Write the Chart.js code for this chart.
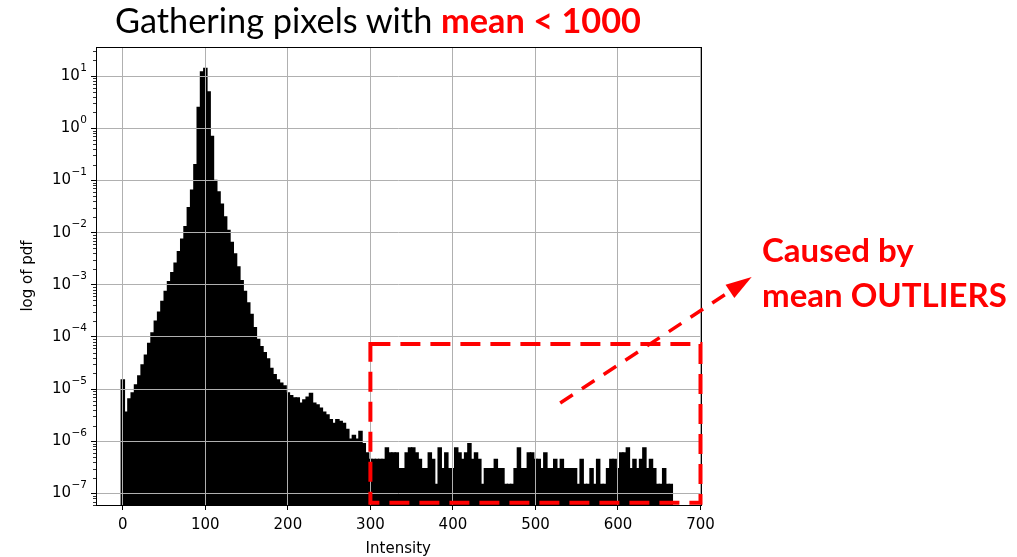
<!DOCTYPE html>
<html>
<head>
<meta charset="utf-8">
<script src="https://cdn.jsdelivr.net/npm/chart.js@4.4.0/dist/chart.umd.min.js"></script>
<style>
  html, body { margin: 0; padding: 0; background: #fff; overflow: hidden; }
  #wrap { position: relative; width: 1017px; height: 557px; overflow: hidden; }
  #box { position: absolute; left: 0; top: 0; width: 1017px; height: 567px; }
  .title { position: absolute; left: 115px; top: -1px; font-family: Lato; font-size: 34.3px; line-height: 1.2; white-space: nowrap; color: #000; }
  .red { color: #f00; font-weight: bold; }
  .note { position: absolute; left: 762px; top: 227px; font-family: Lato; font-weight: bold; font-size: 33px; line-height: 45px; white-space: nowrap; color: #f00; }
</style>
</head>
<body>
<div id="wrap">
  <div id="box"><canvas id="chart"></canvas></div>
  <div class="title">Gathering pixels with <span class="red">mean &lt; 1000</span></div>
  <div class="note">Caused by<br>mean OUTLIERS</div>
</div>
<script>
// histogram bins: first bin centre and width (intensity units)
const binStart = 0;
const binWidth = 4;

// pdf value of each bin
const pdf = [
  1.5e-5, 3.6e-6, 6.5e-6, 8.5e-6, 1.2e-5, 1.8e-5, 2.9e-5, 4.5e-5,
  7.5e-5, 1.2e-4, 2e-4, 3e-4, 4.8e-4, 7.5e-4, 1.15e-3, 1.7e-3,
  2.6e-3, 4.3e-3, 7.5e-3, 0.013, 0.03, 0.065, 0.2, 2.5,
  12, 14, 5, 0.7, 0.1, 0.06, 0.035, 0.02,
  0.011, 6.5e-3, 3.9e-3, 2.2e-3, 1.2e-3, 7.5e-4, 4.5e-4, 2.7e-4,
  1.5e-4, 9e-5, 6.5e-5, 5e-5, 3.8e-5, 2.5e-5, 1.9e-5, 1.5e-5,
  1.3e-5, 1.15e-5, 8.5e-6, 7.5e-6, 6.8e-6, 6.8e-6, 5.4e-6, 6.2e-6,
  7e-6, 8.3e-6, 5.4e-6, 5e-6, 4.3e-6, 3.6e-6, 3.2e-6, 2.6e-6,
  2.2e-6, 2.6e-6, 2.4e-6, 2.2e-6, 1.7e-6, 1.1e-6, 1.3e-6, 1.1e-6,
  1.55e-6, 9e-7, 6e-7,
  4.5e-7, 4.5e-7, 4.5e-7, 4.5e-7, 4.5e-7, 7.5e-7, 6e-7, 6e-7,
  6e-7, 3e-7, 3e-7, 6e-7, 7.5e-7, 7.5e-7, 6e-7, 4.5e-7,
  3e-7, 3e-7, 6e-7, 4.5e-7, 1.5e-7, 7.5e-7, 3e-7, 6e-7,
  3e-7, 3e-7, 7.5e-7, 6e-7, 4.5e-7, 6e-7, 9e-7, 4.5e-7,
  6e-7, 4.5e-7, 1.5e-7, 3e-7, 3e-7, 3e-7, 4.5e-7, 3e-7,
  3e-7, 1.5e-7, 1.5e-7, 1.5e-7, 3e-7, 7.5e-7, 3e-7, 3e-7,
  6e-7, 6e-7, 4.5e-7, 4.5e-7, 3e-7, 6e-7, 3e-7, 3e-7,
  4.5e-7, 3e-7, 4.5e-7, 3e-7, 3e-7, 3e-7, 3e-7, 1.5e-7,
  4.5e-7, 1.5e-7, 1.5e-7, 3e-7, 1.5e-7, 4.5e-7, 1.5e-7, 1.5e-7,
  3e-7, 4.5e-7, 4.5e-7, 3e-7, 6e-7, 6e-7, 7.5e-7, 3e-7,
  4.5e-7, 3e-7, 4.5e-7, 7.5e-7, 3e-7, 4.5e-7, 3e-7, 1.5e-7,
  1.5e-7, 3e-7, 1.5e-7, 1.5e-7
];

const xTickValues = [0, 100, 200, 300, 400, 500, 600, 700];
const yTickValues = [1e-7, 1e-6, 1e-5, 1e-4, 1e-3, 1e-2, 1e-1, 1e0, 1e1];
// y labels are 10 raised to these
const yTickBase = '10';
const yTickExponents = ['−7', '−6', '−5', '−4', '−3', '−2', '−1', '0', '1'];

// annotation, in data units
const outlierBox = { x0: 300, x1: 700, yTop: 7.3e-5, yBottom: 6.6e-8 };
const arrowFrom = [530, 5.4e-6];
const arrowTo = [762, 1.4e-3];

const points = pdf.map((v, i) => ({ x: binStart + i * binWidth, y: v }));

const tickFont = { family: 'DejaVu Sans', size: 15 };

const annotate = {
  id: 'annotate',
  afterDraw(chart) {
    const { ctx, chartArea: a, scales: { x, y } } = chart;
    ctx.save();

    // minor ticks of the log axis
    ctx.strokeStyle = '#000';
    ctx.lineWidth = 0.8;
    for (let d = -8; d <= 1; d++) {
      for (let m = 2; m <= 9; m++) {
        const v = m * Math.pow(10, d);
        if (v < y.min || v > y.max) continue;
        const py = Math.round(y.getPixelForValue(v)) + 0.5;
        ctx.beginPath();
        ctx.moveTo(a.left - 3, py);
        ctx.lineTo(a.left, py);
        ctx.stroke();
      }
    }

    // y tick labels as 10 with a raised exponent
    ctx.fillStyle = '#000';
    ctx.textBaseline = 'alphabetic';
    ctx.textAlign = 'left';
    const right = a.left - 9;
    yTickValues.forEach((v, i) => {
      const py = y.getPixelForValue(v);
      ctx.font = '10.5px "DejaVu Sans"';
      const ew = ctx.measureText(yTickExponents[i]).width;
      ctx.font = '15px "DejaVu Sans"';
      const bw = ctx.measureText(yTickBase).width;
      ctx.fillText(yTickBase, right - ew - bw - 0.5, py + 4);
      ctx.font = '10.5px "DejaVu Sans"';
      ctx.fillText(yTickExponents[i], right - ew, py - 5.5);
    });

    // axes frame
    ctx.strokeStyle = '#000';
    ctx.lineWidth = 1;
    ctx.strokeRect(Math.round(a.left) + 0.5, Math.round(a.top) + 0.5,
      Math.round(a.right - a.left), Math.round(a.bottom - a.top));

    // dashed box round the outliers
    const bx0 = x.getPixelForValue(outlierBox.x0), bx1 = x.getPixelForValue(outlierBox.x1);
    const by0 = y.getPixelForValue(outlierBox.yTop), by1 = y.getPixelForValue(outlierBox.yBottom);
    ctx.strokeStyle = '#f00';
    ctx.lineWidth = 4;
    ctx.setLineDash([20, 10]);
    ctx.beginPath();
    ctx.moveTo(bx0, by0);
    ctx.lineTo(bx1, by0);
    ctx.lineTo(bx1, by1);
    ctx.lineTo(bx0, by1);
    ctx.closePath();
    ctx.stroke();

    // dashed arrow
    const fx = x.getPixelForValue(arrowFrom[0]), fy = y.getPixelForValue(arrowFrom[1]);
    const tx = x.getPixelForValue(arrowTo[0]), ty = y.getPixelForValue(arrowTo[1]);
    const len = Math.hypot(tx - fx, ty - fy);
    const ux = (tx - fx) / len, uy = (ty - fy) / len;
    const head = 26, half = 8;
    ctx.lineWidth = 3.5;
    ctx.setLineDash([15, 11]);
    ctx.beginPath();
    ctx.moveTo(fx, fy);
    ctx.lineTo(tx - ux * head, ty - uy * head);
    ctx.stroke();
    ctx.setLineDash([]);
    ctx.fillStyle = '#f00';
    ctx.beginPath();
    ctx.moveTo(tx, ty);
    ctx.lineTo(tx - ux * head - uy * half, ty - uy * head + ux * half);
    ctx.lineTo(tx - ux * head + uy * half, ty - uy * head - ux * half);
    ctx.closePath();
    ctx.fill();

    ctx.restore();
  }
};

new Chart(document.getElementById('chart'), {
  type: 'bar',
  data: {
    datasets: [{
      data: points,
      backgroundColor: '#000',
      borderWidth: 0,
      barPercentage: 1,
      categoryPercentage: 1,
      inflateAmount: 0.6
    }]
  },
  options: {
    responsive: true,
    maintainAspectRatio: false,
    animation: false,
    layout: { padding: { top: 47, right: 316.5, left: 0, bottom: 0 } },
    plugins: {
      legend: { display: false },
      tooltip: { enabled: false }
    },
    scales: {
      x: {
        type: 'linear',
        min: -32.5,
        max: 700,
        offset: false,
        afterBuildTicks: s => { s.ticks = xTickValues.map(v => ({ value: v })); },
        afterFit: s => { s.height = 62; },
        grid: { offset: false, z: 1, color: '#b0b0b0', lineWidth: 1, tickColor: '#000', tickLength: 5 },
        border: { display: false },
        ticks: { font: tickFont, color: '#000', padding: 6, maxRotation: 0, autoSkip: false },
        title: { display: true, text: 'Intensity', font: tickFont, color: '#000', padding: { top: 0, bottom: 9 } }
      },
      y: {
        type: 'logarithmic',
        min: 6.05e-8,
        max: 36,
        afterBuildTicks: s => { s.ticks = yTickValues.map(v => ({ value: v })); },
        afterFit: s => { s.width = 96; },
        grid: { z: 1, color: '#b0b0b0', lineWidth: 1, tickColor: '#000', tickLength: 5 },
        border: { display: false },
        ticks: { autoSkip: false, callback: () => '' },
        title: { display: true, text: 'log of pdf', font: tickFont, color: '#000', padding: { top: 19, bottom: 0 } }
      }
    }
  },
  plugins: [annotate]
});
</script>
</body>
</html>
